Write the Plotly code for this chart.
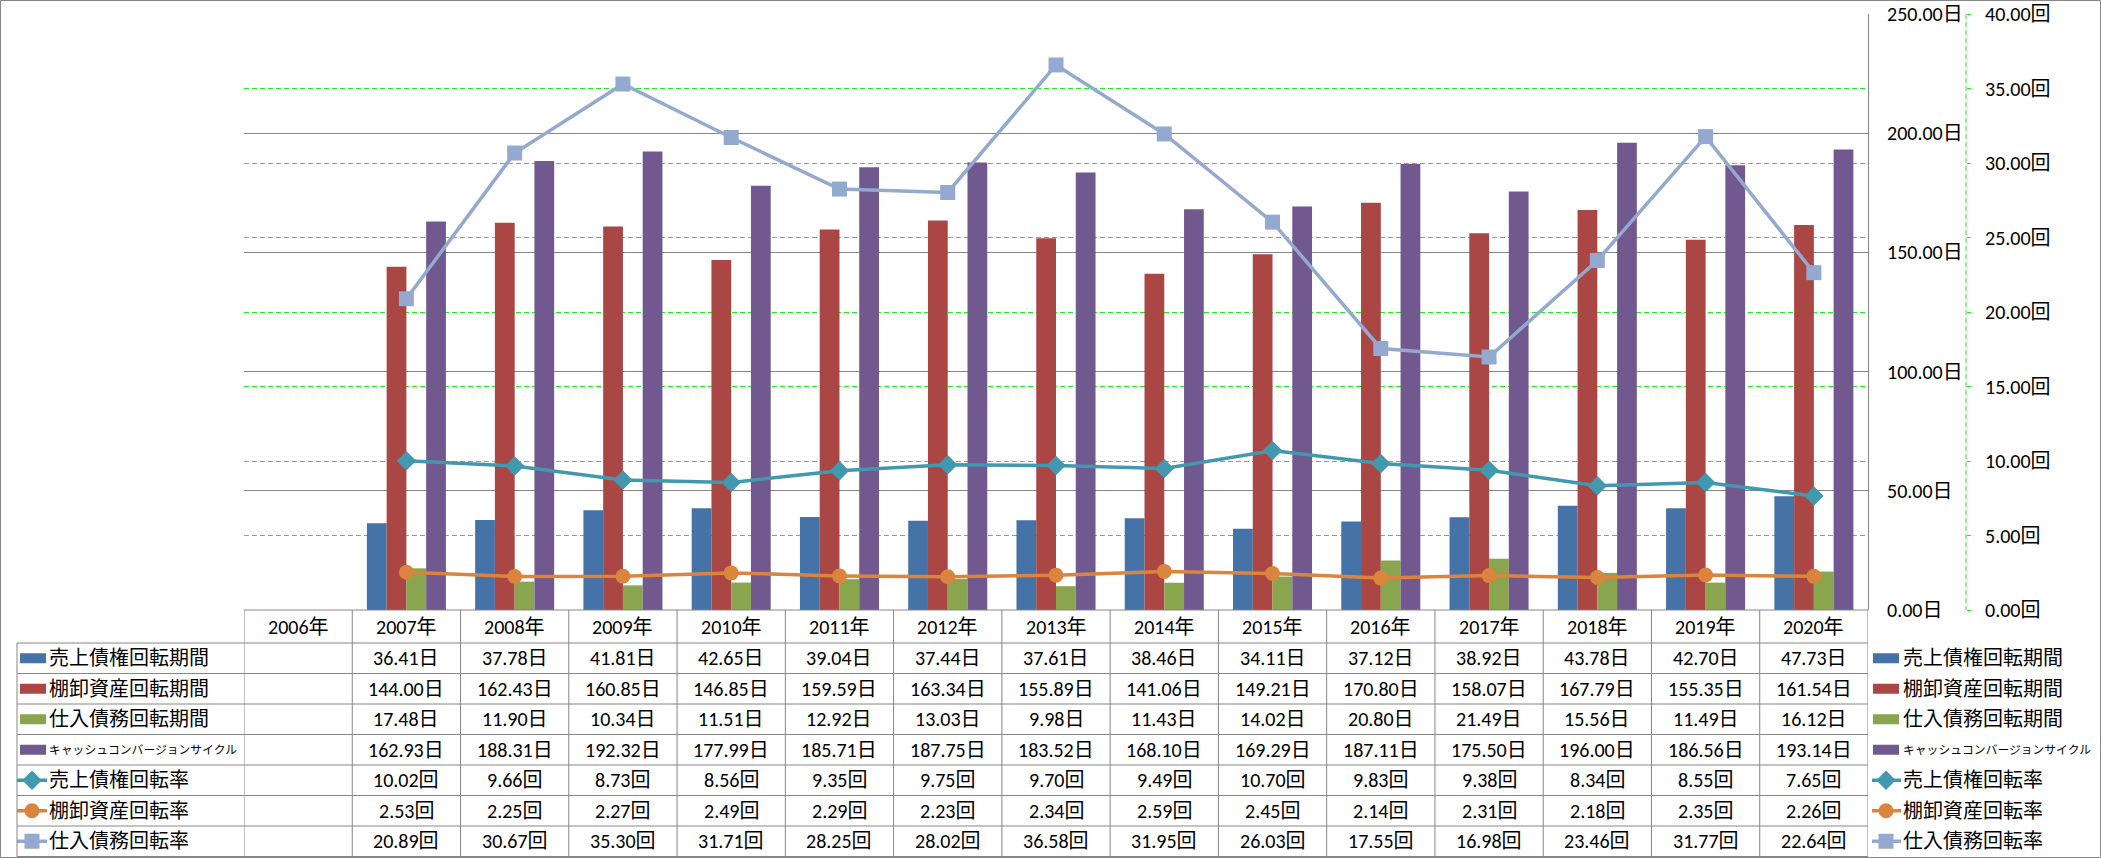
import plotly.graph_objects as go

W, H = 2101, 858

years = ["2006年", "2007年", "2008年", "2009年", "2010年", "2011年", "2012年", "2013年",
         "2014年", "2015年", "2016年", "2017年", "2018年", "2019年", "2020年"]

ar_days = [None, 36.41, 37.78, 41.81, 42.65, 39.04, 37.44, 37.61, 38.46, 34.11, 37.12, 38.92, 43.78, 42.70, 47.73]
inv_days = [None, 144.00, 162.43, 160.85, 146.85, 159.59, 163.34, 155.89, 141.06, 149.21, 170.80, 158.07, 167.79, 155.35, 161.54]
ap_days = [None, 17.48, 11.90, 10.34, 11.51, 12.92, 13.03, 9.98, 11.43, 14.02, 20.80, 21.49, 15.56, 11.49, 16.12]
ccc_days = [None, 162.93, 188.31, 192.32, 177.99, 185.71, 187.75, 183.52, 168.10, 169.29, 187.11, 175.50, 196.00, 186.56, 193.14]
ar_turn = [None, 10.02, 9.66, 8.73, 8.56, 9.35, 9.75, 9.70, 9.49, 10.70, 9.83, 9.38, 8.34, 8.55, 7.65]
inv_turn = [None, 2.53, 2.25, 2.27, 2.49, 2.29, 2.23, 2.34, 2.59, 2.45, 2.14, 2.31, 2.18, 2.35, 2.26]
ap_turn = [None, 20.89, 30.67, 35.30, 31.71, 28.25, 28.02, 36.58, 31.95, 26.03, 17.55, 16.98, 23.46, 31.77, 22.64]

bar_names = ["売上債権回転期間", "棚卸資産回転期間", "仕入債務回転期間", "キャッシュコンバージョンサイクル"]
bar_data = [ar_days, inv_days, ap_days, ccc_days]
bar_colors = ["#4572A7", "#AA4643", "#89A54E", "#71588F"]

line_names = ["売上債権回転率", "棚卸資産回転率", "仕入債務回転率"]
line_data = [ar_turn, inv_turn, ap_turn]
line_colors = ["#4198AF", "#DB843D", "#93A9CF"]
line_symbols = ["diamond", "circle", "square"]
line_msize = [15, 15, 15]

FONT = "Calibri, 'Noto Sans CJK JP', sans-serif"
GRID = "#868686"
GREEN = "#22EE22"

def fx(px):
    return px / W

def fy(py):
    return 1 - py / H

fig = go.Figure()

for name, vals, col in zip(bar_names, bar_data, bar_colors):
    fig.add_trace(go.Bar(x=years, y=vals, name=name, marker=dict(color=col, line=dict(width=0)),
                         xaxis="x", yaxis="y", showlegend=False))

for name, vals, col, sym, ms in zip(line_names, line_data, line_colors, line_symbols, line_msize):
    fig.add_trace(go.Scatter(x=years, y=vals, name=name, mode="lines+markers",
                             line=dict(color=col, width=3.5),
                             marker=dict(symbol=sym, size=ms, color=col, line=dict(width=0)),
                             xaxis="x", yaxis="y2", showlegend=False))

# layout geometry (pixels)
PL, PR, PT, PB = 244, 1868, 14, 610
row_edges = [643, 673.5, 704, 734.5, 765, 795.5, 826, 856.5]
row_centers = [(row_edges[i] + row_edges[i + 1]) / 2 for i in range(7)]
head_center = (PB + 643) / 2

shapes = []
annotations = []
line_style = dict(color=GRID, width=1)

# outer border
shapes.append(dict(type="rect", xref="paper", yref="paper", x0=fx(0.5), x1=fx(W - 0.5),
                   y0=fy(0.5), y1=fy(H - 0.5), line=line_style, layer="above"))
# table horizontal lines
shapes.append(dict(type="line", xref="paper", yref="paper", x0=fx(PL), x1=fx(PR), y0=fy(PB), y1=fy(PB), line=line_style))
for ye in row_edges:
    shapes.append(dict(type="line", xref="paper", yref="paper", x0=fx(17), x1=fx(PR), y0=fy(ye), y1=fy(ye), line=line_style))
# table vertical lines (category boundaries)
for k in range(len(years) + 1):
    shapes.append(dict(type="line", xref="x", yref="paper", x0=k - 0.5, x1=k - 0.5,
                       y0=fy(PB), y1=fy(row_edges[-1]), line=line_style))
shapes.append(dict(type="line", xref="paper", yref="paper", x0=fx(17), x1=fx(17),
                   y0=fy(row_edges[0]), y1=fy(row_edges[-1]), line=line_style))
# secondary axis dashed line
shapes.append(dict(type="line", xref="paper", yref="paper", x0=fx(1966), x1=fx(1966),
                   y0=fy(PT), y1=fy(PB), line=dict(color=GREEN, width=1, dash="5px,3px")))

# header years
for yr in years:
    annotations.append(dict(x=yr, xref="x", y=fy(head_center), yref="paper", text=yr, showarrow=False,
                            xanchor="center", yanchor="middle", font=dict(size=20, color="#000", family=FONT)))

all_names = bar_names + line_names
all_data = bar_data + line_data
suffixes = ["日"] * 4 + ["回"] * 3
for i, (name, vals, suf) in enumerate(zip(all_names, all_data, suffixes)):
    rc = row_centers[i]
    for yr, v in zip(years, vals):
        if v is None:
            continue
        annotations.append(dict(x=yr, xref="x", y=fy(rc), yref="paper", text=f"{v:.2f}{suf}",
                                showarrow=False, xanchor="center", yanchor="middle",
                                font=dict(size=20, color="#000", family=FONT)))
    fs = 11.8 if len(name) > 10 else 20
    for lx in (47, 1901):
        annotations.append(dict(x=fx(lx), xref="paper", y=fy(rc), yref="paper", text=name, showarrow=False,
                                xanchor="left", yanchor="middle", font=dict(size=fs, color="#000", family=FONT)))

# bar legend swatches
for i, col in enumerate(bar_colors):
    rc = row_centers[i]
    for x0, x1 in ((20, 46), (1873, 1899)):
        shapes.append(dict(type="rect", xref="paper", yref="paper", x0=fx(x0), x1=fx(x1),
                           y0=fy(rc - 5), y1=fy(rc + 5), fillcolor=col, line=dict(width=0)))

# line legend keys (on a full-figure helper axis in pixel units)
for j, (col, sym, ms) in enumerate(zip(line_colors, line_symbols, line_msize)):
    rc = row_centers[4 + j]
    fig.add_trace(go.Scatter(x=[17, 47, None, 1872, 1901], y=[rc, rc, None, rc, rc], mode="lines",
                             line=dict(color=col, width=3.5), xaxis="x3", yaxis="y3",
                             showlegend=False, hoverinfo="skip"))
    fig.add_trace(go.Scatter(x=[32, 1886], y=[rc, rc], mode="markers",
                             marker=dict(symbol=sym, size=ms, color=col, line=dict(width=0)),
                             xaxis="x3", yaxis="y3", showlegend=False, hoverinfo="skip"))

fig.update_layout(
    width=W, height=H,
    margin=dict(l=0, r=0, t=0, b=0, pad=0, autoexpand=False),
    paper_bgcolor="white", plot_bgcolor="rgba(0,0,0,0)",
    barmode="group", bargap=0.27, bargroupgap=0,
    font=dict(family=FONT, size=19, color="#000"),
    xaxis=dict(domain=[fx(PL), fx(PR)], type="category", categoryorder="array", categoryarray=years,
               range=[-0.5, len(years) - 0.5], showticklabels=False, showgrid=False, zeroline=False,
               showline=False, ticks="", anchor="y", automargin=False),
    yaxis=dict(domain=[fy(PB), fy(PT)], range=[0, 250], dtick=50, side="right", anchor="x",
               showgrid=True, gridcolor=GRID, gridwidth=1, zeroline=False,
               showline=True, linecolor=GRID, linewidth=1, ticks="",
               tickformat=".2f", ticksuffix="日", ticklabelstandoff=14, automargin=False,
               tickfont=dict(size=20, family=FONT, color="#000")),
    yaxis2=dict(overlaying="y", side="right", anchor="free", position=fx(1966),
                range=[0, 40], dtick=5, showgrid=True, gridcolor=GREEN, gridwidth=1, griddash="5px,3px",
                zeroline=False, showline=False, ticks="outside", ticklen=4, tickcolor=GREEN,
                tickformat=".2f", ticksuffix="回", ticklabelstandoff=10, automargin=False,
                tickfont=dict(size=20, family=FONT, color="#000")),
    xaxis3=dict(domain=[0, 1], range=[0, W], visible=False, anchor="y3", fixedrange=True, automargin=False),
    yaxis3=dict(domain=[0, 1], range=[H, 0], visible=False, anchor="x3", fixedrange=True, automargin=False),
    shapes=shapes,
    annotations=annotations,
    showlegend=False,
)

fig.write_html("out.html", config={"displayModeBar": False},
               post_script="document.body.style.margin='0';document.body.style.overflow='hidden';")
